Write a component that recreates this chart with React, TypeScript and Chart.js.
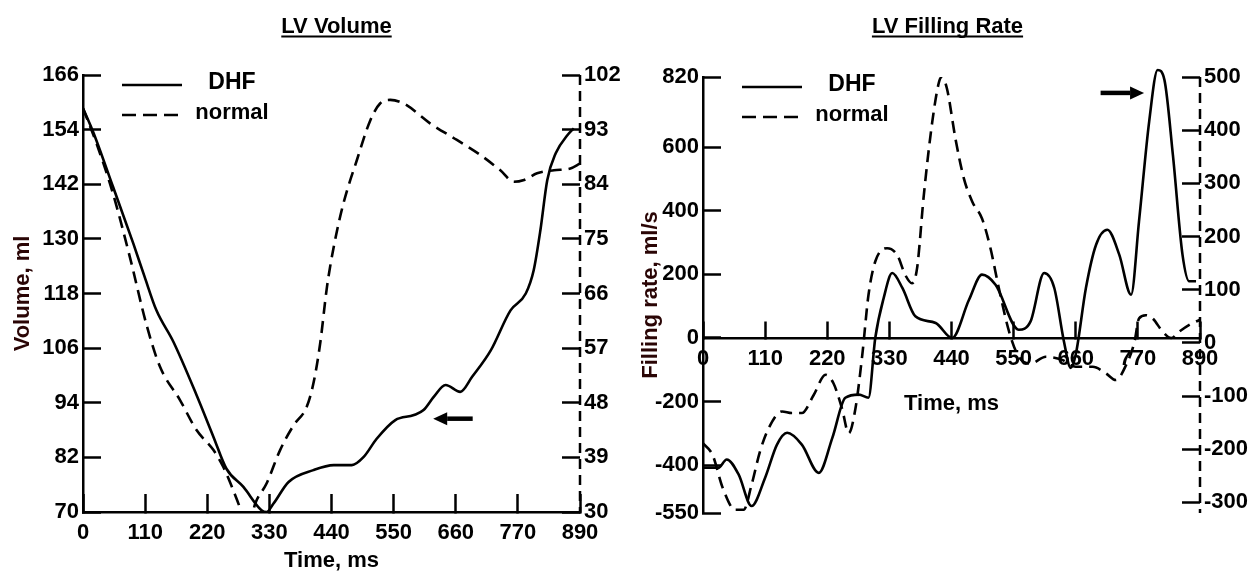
import React, { useEffect, useRef } from 'react';
import { Chart, registerables } from 'chart.js';

Chart.register(...registerables);

const FONT = '"Liberation Sans", Arial, Helvetica, sans-serif';

// ---- shared time axis ----
const timeTicks = [0, 110, 220, 330, 440, 550, 660, 770, 880];
const timeTickLabels = ['0', '110', '220', '330', '440', '550', '660', '770', '890'];

// ---- LV Volume panel ----
const volumeTicksLeft = [70, 82, 94, 106, 118, 130, 142, 154, 166];
const volumeTicksRight = [30, 39, 48, 57, 66, 75, 84, 93, 102];

const volumeDhfTime = [0, 18, 53, 89, 109, 130, 160, 201, 231, 254, 284, 316, 325, 337, 364, 408, 444, 476, 497, 520, 553, 586, 603, 621, 642, 668, 689, 722, 757, 784, 798, 810, 822, 837, 858, 869];
const volumeDhf = [158.7, 153.5, 141.5, 129, 121.7, 114.3, 107.4, 95.7, 86.5, 79.5, 75.5, 70.4, 70, 71.8, 76.6, 79.2, 80.3, 80.3, 82.1, 86.1, 90.2, 91.3, 92.4, 95.3, 97.9, 96.4, 99.7, 105.5, 114.3, 118, 123.1, 132, 142.9, 148.8, 152.8, 154.3];

const volumeNormalTime = [0, 24, 53, 83, 112, 136, 172, 201, 231, 248, 266, 281, 293, 305, 325, 349, 373, 396, 408, 420, 432, 444, 461, 485, 509, 526, 544, 568, 615, 662, 704, 739, 763, 781, 804, 834, 863, 880];
const volumeNormal = [96.5, 90.7, 82.5, 72, 61, 54, 48.4, 43.5, 40.2, 37.5, 33.6, 30, 27.5, 31.4, 34.7, 40.2, 44.3, 47.3, 51.2, 57.8, 67.1, 73.7, 80.8, 88, 94.6, 97.3, 97.9, 97.3, 94, 91.3, 88.8, 86.3, 84.4, 84.7, 85.8, 86.3, 86.6, 87.4];

// arrow: from time, to time, value (left axis)
const volumeArrow = [690, 620, 90.5];

// ---- LV Filling Rate panel ----
const rateTicksLeft = [-550, -400, -200, 0, 200, 400, 600, 820];
const rateTicksRight = [-300, -200, -100, 0, 100, 200, 300, 400, 500];

const rateDhfTime = [0, 27, 42, 63, 86, 110, 131, 149, 175, 205, 229, 252, 276, 293, 305, 320, 335, 353, 376, 412, 441, 471, 494, 518, 559, 580, 604, 622, 639, 651, 660, 678, 696, 716, 737, 758, 772, 790, 805, 817, 832, 849, 861, 873];
const rateDhf = [-408, -408, -382, -429, -528, -439, -335, -298, -335, -424, -314, -188, -178, -188, 0, 126, 204, 157, 68, 47, 0, 120, 199, 167, 26, 52, 204, 157, -10, -94, -52, 157, 293, 340, 262, 136, 366, 680, 842, 811, 575, 262, 178, 178];

const rateNormalTime = [0, 17, 35, 57, 72, 86, 101, 116, 140, 157, 175, 196, 217, 231, 246, 258, 270, 282, 293, 305, 326, 344, 358, 370, 379, 391, 406, 418, 423, 432, 447, 462, 477, 494, 509, 524, 542, 559, 580, 607, 636, 660, 690, 713, 731, 749, 764, 772, 784, 796, 814, 829, 843, 861, 879];
const rateNormal = [-189, -211, -273, -314, -314, -267, -204, -161, -129, -132, -132, -98, -60, -76, -123, -170, -123, -23, 90, 153, 178, 165, 128, 112, 140, 278, 416, 491, 500, 478, 384, 309, 265, 234, 178, 102, 21, -26, -39, -26, -32, -45, -45, -57, -70, -42, 2, 46, 52, 46, 21, 9, 21, 34, 43];

// arrow: from time, to time, value (left axis)
const rateArrow = [704, 781, 770];

const toPoints = (xs: number[], ys: number[]) => xs.map((x, i) => ({ x, y: ys[i] }));

// ---- plugins ----
const titlePlugin = {
  id: 'panelTitle',
  afterDraw(chart: any, _a: any, opts: any) {
    const { ctx, chartArea } = chart;
    ctx.save();
    ctx.font = `bold 22px ${FONT}`;
    ctx.fillStyle = '#000';
    ctx.textAlign = 'center';
    ctx.textBaseline = 'alphabetic';
    const cx = (chartArea.left + chartArea.right) / 2 + (opts.dx || 0);
    ctx.fillText(opts.text, cx, 33);
    const w = ctx.measureText(opts.text).width;
    ctx.fillRect(cx - w / 2, 35.5, w, 2);
    ctx.restore();
  },
};

const dashedAxisPlugin = {
  id: 'dashedAxis',
  afterDraw(chart: any) {
    const { ctx, chartArea } = chart;
    const s = chart.scales.y1;
    const x = s.left;
    ctx.save();
    ctx.strokeStyle = '#000';
    ctx.lineWidth = 2.5;
    ctx.setLineDash([10, 6]);
    ctx.beginPath();
    ctx.moveTo(x, chartArea.top);
    ctx.lineTo(x, chartArea.bottom);
    ctx.stroke();
    ctx.restore();
  },
};

const legendPlugin = {
  id: 'inLegend',
  afterDraw(chart: any) {
    const { ctx, chartArea } = chart;
    const x0 = chartArea.left + 39;
    const x1 = chartArea.left + 99;
    const tx = chartArea.left + 149;
    chart.data.datasets.forEach((ds: any, i: number) => {
      const y = chartArea.top + 10 + i * 30;
      ctx.save();
      ctx.strokeStyle = '#000';
      ctx.lineWidth = 2.6;
      ctx.setLineDash(ds.borderDash ? [14, 7] : []);
      ctx.beginPath();
      ctx.moveTo(x0, y);
      ctx.lineTo(x1, y);
      ctx.stroke();
      ctx.setLineDash([]);
      ctx.fillStyle = '#000';
      ctx.font = i === 0 ? `bold 23px ${FONT}` : `bold 22px ${FONT}`;
      ctx.textAlign = 'center';
      ctx.textBaseline = 'middle';
      ctx.fillText(ds.label, tx, y - 2);
      ctx.restore();
    });
  },
};

const arrowPlugin = {
  id: 'arrowMark',
  afterDatasetsDraw(chart: any, _a: any, opts: any) {
    const { ctx } = chart;
    const xs = chart.scales.x;
    const ys = chart.scales.y;
    const [from, to, value] = opts.arrow;
    const x1 = xs.getPixelForValue(from);
    const x2 = xs.getPixelForValue(to);
    const y = ys.getPixelForValue(value);
    const dir = Math.sign(x2 - x1);
    const head = 14;
    ctx.save();
    ctx.strokeStyle = '#000';
    ctx.fillStyle = '#000';
    ctx.lineWidth = 4.5;
    ctx.beginPath();
    ctx.moveTo(x1, y);
    ctx.lineTo(x2 - dir * head, y);
    ctx.stroke();
    ctx.beginPath();
    ctx.moveTo(x2, y);
    ctx.lineTo(x2 - dir * head, y - 6.5);
    ctx.lineTo(x2 - dir * head, y + 6.5);
    ctx.closePath();
    ctx.fill();
    ctx.restore();
  },
};

const tickFont = { family: FONT, size: 22, weight: 'bold' as const };
const gridOpts = {
  display: true,
  drawOnChartArea: false,
  drawTicks: true,
  tickLength: -18,
  tickWidth: 2.5,
  tickColor: '#000',
  color: '#000',
};

function makeConfig(p: any): any {
  return {
    type: 'line',
    data: {
      datasets: [
        {
          label: 'DHF',
          data: p.dhf,
          yAxisID: 'y',
          borderColor: '#000',
          borderWidth: 2.6,
          pointRadius: 0,
          fill: false,
          cubicInterpolationMode: 'monotone',
          clip: p.dhfClip,
        },
        {
          label: 'normal',
          data: p.normal,
          yAxisID: 'y1',
          borderColor: '#000',
          borderWidth: 2.6,
          borderDash: [12, 7],
          pointRadius: 0,
          fill: false,
          cubicInterpolationMode: 'monotone',
        },
      ],
    },
    options: {
      animation: false,
      responsive: false,
      events: [],
      layout: { padding: p.padding },
      plugins: {
        legend: { display: false },
        tooltip: { enabled: false },
        title: { display: false },
        panelTitle: { text: p.title, dx: p.titleDx },
        arrowMark: { arrow: p.arrow },
      },
      scales: {
        x: {
          type: 'linear',
          min: 0,
          max: 880,
          position: p.xPosition,
          afterBuildTicks: (s: any) => {
            s.ticks = timeTicks.map((v) => ({ value: v }));
          },
          afterFit: (s: any) => {
            s.height = p.xHeight;
          },
          ticks: {
            autoSkip: false,
            maxRotation: 0,
            padding: 26,
            font: tickFont,
            color: '#000',
            callback: (v: number) => {
              const i = timeTicks.indexOf(v);
              return i >= 0 ? timeTickLabels[i] : '';
            },
          },
          grid: gridOpts,
          border: { display: true, color: '#000', width: 2.5 },
          title: {
            display: true,
            text: 'Time, ms',
            font: { family: FONT, size: 22, weight: 'bold' },
            color: '#000',
            padding: { top: 0, bottom: 0 },
          },
        },
        y: {
          type: 'linear',
          position: 'left',
          min: p.yTicks[0],
          max: p.yTicks[p.yTicks.length - 1],
          afterBuildTicks: (s: any) => {
            s.ticks = p.yTicks.map((v: number) => ({ value: v }));
          },
          afterFit: (s: any) => {
            s.width = p.yWidth;
          },
          ticks: {
            autoSkip: false,
            padding: 22,
            font: tickFont,
            color: '#000',
            callback: (v: number) => String(v),
          },
          grid: gridOpts,
          border: { display: true, color: '#000', width: 2.5 },
          title: {
            display: true,
            text: p.yTitle,
            font: { family: FONT, size: 22, weight: 'bold' },
            color: '#2a0505',
            padding: { top: 10, bottom: 0 },
          },
        },
        y1: {
          type: 'linear',
          position: 'right',
          min: p.y1Min,
          max: p.y1Max,
          afterBuildTicks: (s: any) => {
            s.ticks = p.y1Ticks.map((v: number) => ({ value: v }));
          },
          afterFit: (s: any) => {
            s.width = p.y1Width;
          },
          ticks: {
            autoSkip: false,
            padding: 22,
            font: tickFont,
            color: '#000',
            callback: (v: number) => String(v),
          },
          grid: gridOpts,
          border: { display: false },
        },
      },
    },
    plugins: [titlePlugin, dashedAxisPlugin, legendPlugin, arrowPlugin],
  };
}

const volumePanel = {
  title: 'LV Volume',
  titleDx: 5,
  yTitle: 'Volume, ml',
  yTicks: volumeTicksLeft,
  y1Ticks: volumeTicksRight,
  y1Min: volumeTicksRight[0],
  y1Max: volumeTicksRight[volumeTicksRight.length - 1],
  dhf: toPoints(volumeDhfTime, volumeDhf),
  normal: toPoints(volumeNormalTime, volumeNormal),
  arrow: volumeArrow,
  dhfClip: undefined,
  padding: { top: 75, left: 0, right: 0, bottom: 0 },
  yWidth: 83,
  y1Width: 48,
  xHeight: 62,
  xPosition: 'bottom',
};

const ratePanel = {
  title: 'LV Filling Rate',
  titleDx: -4,
  yTitle: 'Filling rate, ml/s',
  yTicks: [...rateTicksLeft].sort((a, b) => a - b),
  y1Ticks: rateTicksRight,
  y1Min: -320,
  y1Max: 500,
  dhf: toPoints(rateDhfTime, rateDhf),
  normal: toPoints(rateNormalTime, rateNormal),
  arrow: rateArrow,
  dhfClip: false,
  padding: { top: 77, left: 0, right: 0, bottom: 61 },
  yWidth: 75,
  y1Width: 57,
  xHeight: 79,
  xPosition: { y: 0 },
};

function Panel({ spec, left, width }: { spec: any; left: number; width: number }) {
  const ref = useRef<HTMLCanvasElement>(null);
  useEffect(() => {
    const chart = new Chart(ref.current as HTMLCanvasElement, makeConfig(spec));
    return () => chart.destroy();
  }, [spec]);
  return (
    <canvas
      ref={ref}
      width={width}
      height={574}
      style={{ position: 'absolute', left, top: 0, width, height: 574 }}
    />
  );
}

export default function App() {
  return (
    <div
      style={{
        position: 'fixed',
        left: 0,
        top: 0,
        width: 1257,
        height: 574,
        background: '#fff',
        overflow: 'hidden',
      }}
    >
      <Panel spec={volumePanel} left={0} width={628} />
      <Panel spec={ratePanel} left={628} width={629} />
    </div>
  );
}
